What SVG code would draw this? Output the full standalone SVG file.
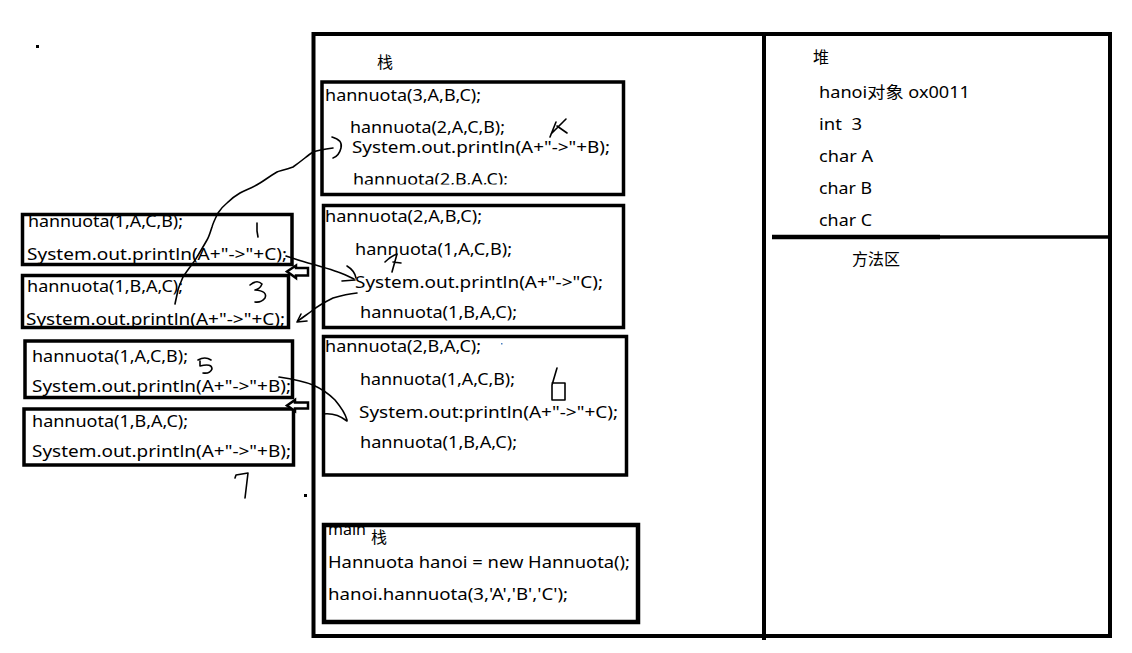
<svg xmlns="http://www.w3.org/2000/svg" width="1132" height="653" viewBox="0 0 1132 653">
<style>
.t{font-family:"Noto Sans","Noto Sans CJK SC",sans-serif;font-size:16px;fill:#000}
.frame{fill:none;stroke:#000;stroke-width:4}
.box{fill:none;stroke:#000;stroke-width:3.5}
.ink{fill:none;stroke:#000;stroke-width:1.6;stroke-linecap:round;stroke-linejoin:round}
.hollow{fill:#fff;stroke:#000;stroke-width:2.5;stroke-linejoin:miter}
</style>
<defs>
<clipPath id="c1"><rect x="320" y="80" width="305" height="104.5"/></clipPath>
</defs>
<rect width="1132" height="653" fill="#fff"/>

<g id="frame">
<rect class="frame" x="313.5" y="34" width="796.5" height="602"/>
<line class="frame" x1="764" y1="33" x2="764" y2="640"/>
<line x1="772" y1="237" x2="940" y2="237" stroke="#000" stroke-width="4.5"/>
<line x1="940" y1="237" x2="1108" y2="237" stroke="#000" stroke-width="3.5"/>
<text class="t" x="377" y="68">栈</text>
<text class="t" x="813" y="63">堆</text>
<text class="t" x="852" y="265">方法区</text>
</g>

<g id="heap">
<text class="t" x="819" y="98" textLength="151" lengthAdjust="spacingAndGlyphs">hanoi对象 ox0011</text>
<text class="t" x="819" y="130" style="white-space:pre" textLength="43" lengthAdjust="spacingAndGlyphs">int  3</text>
<text class="t" x="819" y="162" textLength="54" lengthAdjust="spacingAndGlyphs">char A</text>
<text class="t" x="819" y="194" textLength="53" lengthAdjust="spacingAndGlyphs">char B</text>
<text class="t" x="819" y="226" textLength="53" lengthAdjust="spacingAndGlyphs">char C</text>
</g>

<g id="frame3">
<rect class="box" x="322" y="82" width="301.5" height="112.5"/>
<text class="t" x="325" y="101" textLength="156" lengthAdjust="spacingAndGlyphs">hannuota(3,A,B,C);</text>
<text class="t" x="350" y="133" textLength="155" lengthAdjust="spacingAndGlyphs">hannuota(2,A,C,B);</text>
<text class="t" x="352" y="153" textLength="258" lengthAdjust="spacingAndGlyphs">System.out.println(A+"-&gt;"+B);</text>
<g clip-path="url(#c1)"><text class="t" x="353" y="185" textLength="155" lengthAdjust="spacingAndGlyphs">hannuota(2,B,A,C);</text></g>
</g>

<g id="frame2a">
<rect class="box" x="323.5" y="205.5" width="300" height="122"/>
<text class="t" x="325" y="222" textLength="157" lengthAdjust="spacingAndGlyphs">hannuota(2,A,B,C);</text>
<text class="t" x="355" y="255" textLength="157" lengthAdjust="spacingAndGlyphs">hannuota(1,A,C,B);</text>
<text class="t" x="355" y="288" textLength="248" lengthAdjust="spacingAndGlyphs">System.out.println(A+"-&gt;"C);</text>
<text class="t" x="360" y="318" textLength="157" lengthAdjust="spacingAndGlyphs">hannuota(1,B,A,C);</text>
</g>

<g id="frame2b">
<rect class="box" x="323.5" y="336.5" width="303" height="138.5"/>
<text class="t" x="325" y="352" textLength="156" lengthAdjust="spacingAndGlyphs">hannuota(2,B,A,C);</text>
<text class="t" x="360" y="385" textLength="155" lengthAdjust="spacingAndGlyphs">hannuota(1,A,C,B);</text>
<text class="t" x="359" y="418" textLength="259" lengthAdjust="spacingAndGlyphs">System.out:println(A+"-&gt;"+C);</text>
<text class="t" x="360" y="448" textLength="157" lengthAdjust="spacingAndGlyphs">hannuota(1,B,A,C);</text>
</g>

<g id="main">
<text class="t" x="328" y="535">main</text>
<rect x="324" y="525" width="314" height="97" fill="none" stroke="#000" stroke-width="4.5"/>
<text class="t" x="371" y="543">栈</text>
<text class="t" x="328" y="568" textLength="302" lengthAdjust="spacingAndGlyphs">Hannuota hanoi = new Hannuota();</text>
<text class="t" x="328" y="600" textLength="240" lengthAdjust="spacingAndGlyphs">hanoi.hannuota(3,'A','B','C');</text>
</g>

<g id="left1">
<text class="t" x="28" y="227" textLength="155" lengthAdjust="spacingAndGlyphs">hannuota(1,A,C,B);</text>
<rect class="box" x="22.5" y="214.5" width="269.5" height="50"/>
<text class="t" x="27" y="260" textLength="260" lengthAdjust="spacingAndGlyphs">System.out.println(A+"-&gt;"+C);</text>
</g>

<g id="left2">
<rect class="box" x="22.5" y="275.5" width="266" height="52"/>
<text class="t" x="27" y="292" textLength="156" lengthAdjust="spacingAndGlyphs">hannuota(1,B,A,C);</text>
<text class="t" x="26" y="325" textLength="259" lengthAdjust="spacingAndGlyphs">System.out.println(A+"-&gt;"+C);</text>
</g>

<g id="left3">
<rect class="box" x="25" y="341" width="267.5" height="56.5"/>
<text class="t" x="32" y="362" textLength="156" lengthAdjust="spacingAndGlyphs">hannuota(1,A,C,B);</text>
<text class="t" x="32" y="392" textLength="259" lengthAdjust="spacingAndGlyphs">System.out.println(A+"-&gt;"+B);</text>
</g>

<g id="left4">
<rect class="box" x="24" y="409" width="269.5" height="56"/>
<text class="t" x="32" y="427" textLength="156" lengthAdjust="spacingAndGlyphs">hannuota(1,B,A,C);</text>
<text class="t" x="32" y="457" textLength="259" lengthAdjust="spacingAndGlyphs">System.out.println(A+"-&gt;"+B);</text>
</g>

<g id="connectors">
<path class="ink" d="M332,137 Q343,140 341,148 Q339,156 333,158"/>
<path class="ink" d="M333,148 C325,149 318,150 313,152 C308,155 303,160 293,167 C285,170 279,171 277,172 C270,176 265,180 260,183 C252,188 245,190 240,193 C233,197 230,200 227,203 C222,207 220,210 218,213 C215,219 213,223 212,227 C210,233 209,237 207,240 C203,247 200,252 197,257 C195,261 192,264 190,267 C187,271 185,274 183,277 C181,282 179,286 178,290 C177,295 176,299 175,304"/>
<path class="ink" d="M286,256 C295,259 303,262 312,264 C322,267 330,269 338,272 C344,274 348,276 354,279"/>
<path class="ink" d="M347,266 C352,269 355,273 356,278"/>
<path class="ink" d="M342,281 L355,280"/>
<path class="ink" d="M357,293 C348,294 340,296 333,298 C325,302 318,306 313,310 C308,314 303,317 298,321"/>
<path class="ink" d="M301,314 L297,322 L307,321"/>
<path class="ink" d="M279,377 C292,379 303,381 313,385 C322,389 330,395 335,400 C340,406 345,412 347,420"/>
<path class="ink" d="M323,414 C331,413 338,414 347,421"/>
<polygon class="hollow" points="287,271.5 296,265.5 296,268 308,268 308,275.5 296,275.5 296,278"/>
<polygon class="hollow" points="287,405.5 295,400 295,402.5 308,402.5 308,408.5 295,408.5 295,411"/>
</g>

<g id="marks">
<path class="ink" d="M550,137 L556,122 M551,134 L566,119 M557,126 L567,133"/>
<path class="ink" d="M385,262 Q391,256 397,254 L392,272 M393,262 L401,263"/>
<path class="ink" d="M257,223 L257,231 L258,237"/>
<path class="ink" d="M250,285 Q257,279 262,284 Q260,289 255,290 Q268,291 265,298 Q261,303 255,302"/>
<path class="ink" d="M198,360 Q205,356 211,360 M200,361 L200,366 Q212,363 212,369 Q210,374 203,373"/>
<path class="ink" d="M557,368 L552,385 L552,400 L565,400 L565,383 L552,383"/>
<path class="ink" d="M235,478 L236,475 L248,473 L245,498"/>
<rect x="36" y="45" width="3" height="3" fill="#000"/>
<rect x="304" y="494" width="3" height="3" fill="#000"/>
<rect x="501" y="343" width="1.5" height="1.5" fill="#4a7fc0"/>
</g>
</svg>
